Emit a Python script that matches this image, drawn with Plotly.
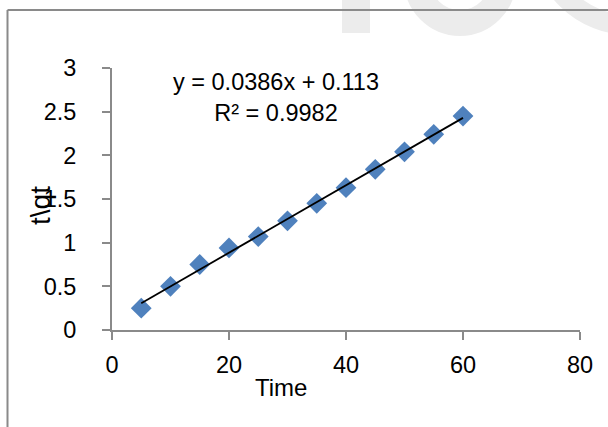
import plotly.graph_objects as go

# Adsorption kinetics data: time vs t/qt
time = [5, 10, 15, 20, 25, 30, 35, 40, 45, 50, 55, 60]
t_over_qt = [0.25, 0.50, 0.75, 0.94, 1.07, 1.25, 1.45, 1.63, 1.84, 2.04, 2.24, 2.45]

# Linear fit reported on the chart
slope = 0.0386
intercept = 0.113
r_squared = 0.9982

x_ticks = [0, 20, 40, 60, 80]
y_ticks = [0, 0.5, 1, 1.5, 2, 2.5, 3]

fit_x = [min(time), max(time)]
fit_y = [slope * v + intercept for v in fit_x]

FONT = "Liberation Sans, Arial, sans-serif"
AXIS_GREY = "#8a8a8a"

# Plot-area geometry in pixels (used to place frame/decorations in paper coords)
W, H = 608, 427
L, R, T, B = 112, 28, 68, 97
pw, ph = W - L - R, H - T - B


def px(xp):
    return (xp - L) / pw


def py(yp):
    return (H - B - yp) / ph


fig = go.Figure()

fig.add_trace(go.Scatter(
    x=time, y=t_over_qt, mode="markers",
    marker=dict(symbol="diamond", size=16, color="#4F81BD"),
    showlegend=False, hoverinfo="x+y",
))

fig.add_trace(go.Scatter(
    x=fit_x, y=fit_y, mode="lines",
    line=dict(color="black", width=1.8),
    showlegend=False, hoverinfo="skip",
))

shapes = []
wm = "#ececec"
# faint background lettering across the top
shapes.append(dict(type="rect", xref="paper", yref="paper",
                   x0=px(342), x1=px(370), y0=py(33), y1=py(-5),
                   fillcolor=wm, line=dict(width=0), layer="below"))
cx, cy, rm = 460, -20, 43
shapes.append(dict(type="circle", xref="paper", yref="paper",
                   x0=px(cx - rm), x1=px(cx + rm), y0=py(cy + rm), y1=py(cy - rm),
                   line=dict(color=wm, width=26), layer="below"))
cx, cy, rm = 630, -65, 90
shapes.append(dict(type="circle", xref="paper", yref="paper",
                   x0=px(cx - rm), x1=px(cx + rm), y0=py(cy + rm), y1=py(cy - rm),
                   line=dict(color=wm, width=20), layer="below"))

# outer chart frame (top and left edges)
shapes.append(dict(type="line", xref="paper", yref="paper",
                   x0=px(7.5), x1=px(W + 5), y0=py(10), y1=py(10),
                   line=dict(color=AXIS_GREY, width=2)))
shapes.append(dict(type="line", xref="paper", yref="paper",
                   x0=px(7.5), x1=px(7.5), y0=py(10), y1=py(H + 5),
                   line=dict(color=AXIS_GREY, width=2)))

annotations = [
    dict(xref="paper", yref="paper", x=px(276), y=py(97),
         text=f"y = {slope}x + {intercept}<br>R² = {r_squared}",
         showarrow=False, xanchor="center", yanchor="middle", align="center",
         font=dict(family=FONT, size=23.5, color="black")),
    dict(xref="paper", yref="paper", x=px(281), y=py(387),
         text="Time", showarrow=False, xanchor="center", yanchor="middle",
         font=dict(family=FONT, size=24, color="black")),
    dict(xref="paper", yref="paper", x=px(40), y=py(206),
         text="t\\qt", showarrow=False, textangle=-90,
         xanchor="center", yanchor="middle",
         font=dict(family=FONT, size=28, color="black")),
]

axis_common = dict(
    showgrid=False, zeroline=False, showline=True,
    linecolor=AXIS_GREY, linewidth=2,
    ticks="outside", ticklen=8, tickwidth=2, tickcolor=AXIS_GREY,
    tickfont=dict(family=FONT, size=23.5, color="black"),
)

fig.update_layout(
    width=W, height=H,
    margin=dict(l=L, r=R, t=T, b=B),
    paper_bgcolor="white", plot_bgcolor="rgba(0,0,0,0)",
    xaxis=dict(range=[0, 80], tickvals=x_ticks, ticklabelstandoff=5, **axis_common),
    yaxis=dict(range=[0, 3], tickvals=y_ticks, ticklabelstandoff=21, **axis_common),
    shapes=shapes,
    annotations=annotations,
)

fig.write_html("out.html")
